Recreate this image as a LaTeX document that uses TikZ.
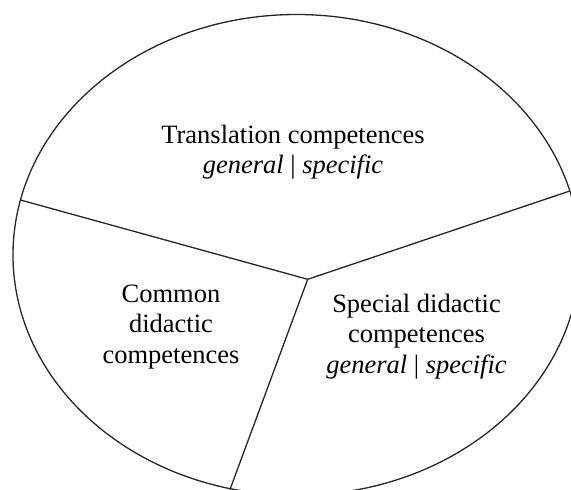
\documentclass[tikz,border=0pt]{standalone}
\usepackage{fontspec}
\setmainfont{Liberation Serif}
\tikzset{
  lbl/.style={align=center, font=\fontsize{26.5}{30.5}\selectfont, inner sep=0pt, anchor=base},
  part/.style={line width=1.3pt, black!85}
}
\begin{document}
\begin{tikzpicture}[x=1pt,y=-1pt]
\useasboundingbox (0,0) rectangle (571,490);
\clip (0,0) rectangle (571,490);
\draw[part] (296.5,254.9) ellipse [x radius=283.5, y radius=240.4];
\coordinate (c) at (307.7,279.3);
\coordinate (l) at (20.5,200);
\coordinate (r) at (569.8,191);
\coordinate (b) at (230,489.5);
\draw[part] (l) -- (c) -- (r);
\draw[part] (c) -- (b);
\node[lbl] (t) at (293,173.5) {Translation competences\\\textit{general} | \textit{specific}};
\node[lbl] (m) at (171,363) {Common\\didactic\\competences};
\node[lbl] (s) at (416.5,373) {Special didactic\\competences\\\textit{general} | \textit{specific}};
\end{tikzpicture}
\end{document}
